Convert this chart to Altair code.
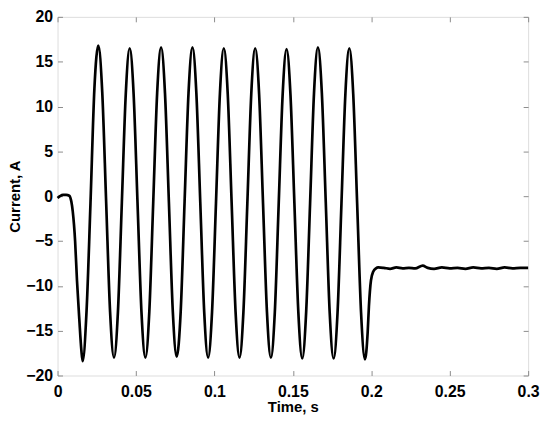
import altair as alt
import pandas as pd

# Time (s) and current (A) values
time_s = [
    0.0000, 0.0015, 0.0035, 0.0055, 0.0075, 0.0088, 0.0097, 0.0112, 0.0124, 0.0139, 0.0152,
    0.0160, 0.0185, 0.0210, 0.0235, 0.0260, 0.0285, 0.0310, 0.0335,
    0.0360, 0.0385, 0.0410, 0.0435, 0.0460, 0.0485, 0.0510, 0.0535,
    0.0560, 0.0585, 0.0610, 0.0635, 0.0660, 0.0685, 0.0710, 0.0735,
    0.0760, 0.0785, 0.0810, 0.0835, 0.0860, 0.0885, 0.0910, 0.0935,
    0.0960, 0.0985, 0.1010, 0.1035, 0.1060, 0.1085, 0.1110, 0.1135,
    0.1160, 0.1185, 0.1210, 0.1235, 0.1260, 0.1285, 0.1310, 0.1335,
    0.1360, 0.1385, 0.1410, 0.1435, 0.1460, 0.1485, 0.1510, 0.1535,
    0.1560, 0.1585, 0.1610, 0.1635, 0.1660, 0.1685, 0.1710, 0.1735,
    0.1760, 0.1785, 0.1810, 0.1835, 0.1860, 0.1885, 0.1910, 0.1935,
    0.1960, 0.1977, 0.1985, 0.1998, 0.2013, 0.2030, 0.2044,
    0.2080, 0.2120, 0.2160, 0.2200, 0.2240, 0.2280, 0.2328, 0.2360,
    0.2400, 0.2450, 0.2500, 0.2550, 0.2600, 0.2650, 0.2700, 0.2750,
    0.2800, 0.2850, 0.2900, 0.2950, 0.3000,
]
current_a = [
    -0.2, 0.0, 0.15, 0.15, 0.05, -0.6, -1.7, -5.0, -9.4, -13.8, -17.2,
    -18.4, -12.8, -0.8, 12.0, 16.8, 11.6, -0.7, -12.9,
    -18.0, -12.9, -0.7, 11.4, 16.5, 11.4, -0.8, -12.9,
    -18.0, -12.9, -0.7, 11.5, 16.6, 11.5, -0.7, -12.9,
    -17.9, -12.9, -0.6, 11.5, 16.6, 11.5, -0.7, -12.9,
    -18.0, -12.9, -0.8, 11.4, 16.5, 11.4, -0.8, -12.9,
    -18.0, -12.9, -0.8, 11.4, 16.5, 11.4, -0.8, -12.9,
    -18.0, -13.0, -0.8, 11.3, 16.4, 11.3, -0.8, -12.9,
    -18.1, -12.9, -0.8, 11.5, 16.6, 11.5, -0.7, -13.0,
    -18.1, -13.0, -0.8, 11.4, 16.5, 11.4, -0.8, -13.0,
    -18.2, -15.2, -12.3, -9.4, -8.4, -8.05, -7.95,
    -8.0, -8.1, -7.95, -8.05, -8.0, -8.05, -7.75, -8.0,
    -8.1, -7.95, -8.05, -8.0, -8.1, -7.95, -8.05, -8.0,
    -8.1, -7.95, -8.05, -8.0, -8.0,
]

x_ticks = [0, 0.05, 0.1, 0.15, 0.2, 0.25, 0.3]
y_ticks = [-20, -15, -10, -5, 0, 5, 10, 15, 20]

df = pd.DataFrame({"t": time_s, "i": current_a})

FONT = "Liberation Sans"
GRAY = "#8c8c8c"

def axis_common(**kw):
    return alt.Axis(
        grid=False, domain=False, tickColor=GRAY, tickSize=5, tickWidth=1,
        offset=-5, labelFont=FONT, labelFontSize=16, labelFontWeight="bold",
        labelColor="black", titleFont=FONT, titleFontSize=15,
        titleFontWeight="bold", titleColor="black", **kw)

xscale = alt.Scale(domain=[0, 0.3], nice=False, zero=False)
yscale = alt.Scale(domain=[-20, 20], nice=False)

main = alt.Chart(df).mark_line(
    color="black", strokeWidth=2.7, interpolate="monotone"
).encode(
    x=alt.X("t:Q", scale=xscale,
            axis=axis_common(values=x_ticks, format="~g", title="Time, s",
                             labelPadding=8, titlePadding=0, orient="bottom",
                             labelFlush=False)),
    y=alt.Y("i:Q", scale=yscale,
            axis=axis_common(values=y_ticks, title="Current, A",
                             labelPadding=5, titlePadding=3, orient="left",
                             labelFlush=False)),
)

frame = alt.Chart(df).mark_line(opacity=0).encode(
    x=alt.X("t:Q", scale=xscale,
            axis=axis_common(values=x_ticks, labels=False, title=None,
                             orient="top")),
    y=alt.Y("i:Q", scale=yscale,
            axis=axis_common(values=y_ticks, labels=False, title=None,
                             orient="right")),
)

chart = alt.layer(main, frame).resolve_axis(
    x="independent", y="independent"
).properties(
    width=475, height=362,
    autosize=alt.AutoSizeParams(type="none"),
    padding={"left": 50, "top": 7, "right": 14, "bottom": 44},
).configure_view(
    stroke=GRAY, strokeWidth=1
).configure(background="white")

chart.save("out.html", embed_options={"renderer": "svg", "actions": False})
